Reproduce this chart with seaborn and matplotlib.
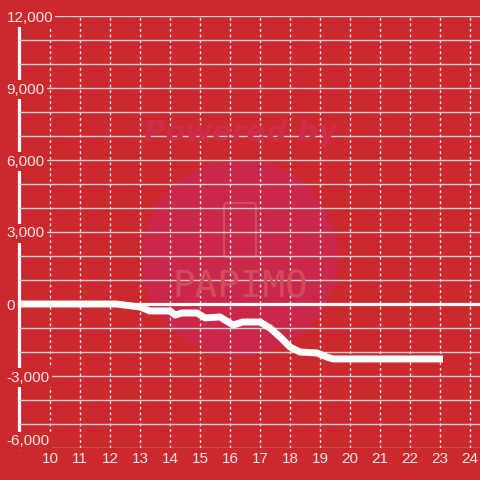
import matplotlib
matplotlib.use("Agg")
import matplotlib.pyplot as plt
import seaborn as sns
import pandas as pd
from matplotlib.patches import Circle, FancyBboxPatch

# ---- data ----
hours = [8.95, 12.2, 13.0, 13.33, 14.0, 14.17, 14.4, 14.9, 15.17, 15.67,
         16.1, 16.43, 17.0, 17.33, 17.67, 18.0, 18.33, 18.9, 19.23, 19.43, 23.1]
values = [0, 0, -125, -290, -290, -460, -375, -375, -580, -540,
          -875, -750, -750, -1000, -1375, -1790, -2000, -2040, -2210, -2290, -2290]
x_ticks = list(range(10, 25))
y_ticks = [-6000, -3000, 0, 3000, 6000, 9000, 12000]
y_minor = list(range(-6000, 12001, 1000))

BG = "#cc292e"
TXT = "#f5e6e6"
GRID = "#cfcfcf"

sns.set_theme(style="white", rc={"axes.facecolor": BG, "figure.facecolor": BG})
plt.rcParams["font.family"] = ["Liberation Sans", "DejaVu Sans"]
plt.rcParams["axes.unicode_minus"] = False

df = pd.DataFrame({"hour": hours, "value": values})

fig = plt.figure(figsize=(4.8, 4.8), dpi=100)
ax = fig.add_axes([18.5 / 480, 32 / 480, (480 - 18.5) / 480, 432 / 480])

# watermark
circ = Circle((0.5, 1 - 258 / 480), 98 / 480, transform=fig.transFigure,
              facecolor="#c9284a", edgecolor="none", zorder=0.2, clip_on=False)
ax.add_patch(circ)
fig.text(0.5, 1 - 133 / 480, "Powered by", ha="center", va="center",
         fontsize=21, fontweight="bold", fontstyle="italic",
         color="#cd2d4a", family="DejaVu Sans", zorder=0.25)
phone = FancyBboxPatch((224 / 480, 1 - 257 / 480), 32 / 480, 54 / 480,
                       boxstyle="round,pad=0,rounding_size=0.007",
                       transform=fig.transFigure, facecolor="none",
                       edgecolor="#d14c5d", lw=1.6, zorder=0.25, clip_on=False)
ax.add_patch(phone)
fig.text(0.5, 1 - 288 / 480, "PAPIMO", ha="center", va="center",
         fontsize=27, color="#d14c5d", family="DejaVu Sans Mono", zorder=0.25)

sns.lineplot(data=df, x="hour", y="value", ax=ax, color="white", lw=5,
             zorder=3, solid_capstyle="butt")
ax.axhline(0, color="white", lw=2.3, zorder=2)

ax.set_xlim(8.95, 24.333)
ax.set_ylim(-6000, 12000)
ax.set_xticks(x_ticks)
ax.set_yticks(y_ticks)
ax.set_yticks(y_minor, minor=True)
ax.set_yticklabels([f"{v:,}" for v in y_ticks])
ax.set_xticklabels([str(v) for v in x_ticks])
ax.set_axisbelow(True)

ax.grid(False)
ax.yaxis.grid(True, which="both", color=GRID, lw=1.0)
ax.xaxis.grid(True, which="major", color="#e8e8e8", lw=1.0, linestyle=(0, (2, 2)))

for s in ["top", "right", "bottom"]:
    ax.spines[s].set_visible(False)
ax.spines["left"].set_color("white")
ax.spines["left"].set_linewidth(2.3)
ax.spines["left"].set_zorder(0.3)

ax.tick_params(axis="y", which="both", length=0, pad=8.6, labelsize=11.0, colors=TXT)
ax.tick_params(axis="x", which="both", length=0, pad=3.0, labelsize=11.0, colors=TXT)
for lab in ax.get_yticklabels():
    lab.set_ha("left")
    lab.set_bbox(dict(facecolor=BG, edgecolor="none", pad=1.5))
ax.get_yticklabels()[0].set_va("bottom")

ax.set_xlabel("")
ax.set_ylabel("")

fig.savefig("out.png", dpi=100, facecolor=BG)
